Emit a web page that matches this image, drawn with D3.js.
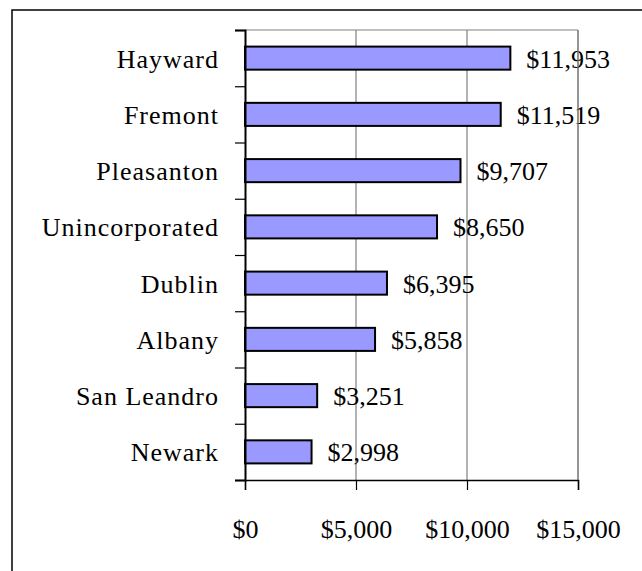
<!DOCTYPE html>
<html>
<head>
<meta charset="utf-8">
<script src="https://cdn.jsdelivr.net/npm/d3@7"></script>
<style>
  html, body { margin: 0; padding: 0; background: #fff; }
  svg { display: block; }
  text { font-family: "Liberation Serif", "DejaVu Serif", serif; fill: #000; }
</style>
</head>
<body>
<svg id="chart" width="642" height="571"></svg>
<script>
const categories = ["Hayward", "Fremont", "Pleasanton", "Unincorporated", "Dublin", "Albany", "San Leandro", "Newark"];
const values = [11953, 11519, 9707, 8650, 6395, 5858, 3251, 2998];
const xTicks = [0, 5000, 10000, 15000];

const svg = d3.select("#chart");
const W = 642, H = 571;
const plot = { left: 245, right: 578, top: 30, bottom: 480 };

// outer frame (extends beyond right and bottom edges)
svg.append("rect")
  .attr("x", 12).attr("y", 10)
  .attr("width", 700).attr("height", 700)
  .attr("fill", "#fff").attr("stroke", "#000").attr("stroke-width", 1.5);

const x = d3.scaleLinear().domain([0, 15000]).range([plot.left, plot.right]);
const y = d3.scaleBand().domain(categories).range([plot.top, plot.bottom]).paddingInner(0.59).paddingOuter(0.295);
const yEdges = d3.scaleLinear().domain([0, categories.length]).range([plot.top, plot.bottom]);

const fmt = d3.format("$,");

// gridlines
svg.append("g").selectAll("line").data(xTicks.slice(1)).join("line")
  .attr("x1", d => x(d)).attr("x2", d => x(d))
  .attr("y1", plot.top).attr("y2", plot.bottom)
  .attr("stroke", "#808080").attr("stroke-width", 1.2);
// top border of plot
svg.append("line")
  .attr("x1", plot.left).attr("x2", plot.right)
  .attr("y1", plot.top).attr("y2", plot.top)
  .attr("stroke", "#808080").attr("stroke-width", 1.2);

// bars
svg.append("g").selectAll("rect").data(values).join("rect")
  .attr("x", x(0))
  .attr("y", (d, i) => y(categories[i]))
  .attr("width", d => x(d) - x(0))
  .attr("height", y.bandwidth())
  .attr("fill", "#9999ff")
  .attr("stroke", "#000").attr("stroke-width", 2);

// value labels
svg.append("g").selectAll("text").data(values).join("text")
  .attr("x", d => x(d) + 16)
  .attr("y", (d, i) => y(categories[i]) + y.bandwidth() / 2 + 9.5)
  .attr("font-size", 26)
  .text(d => fmt(d));

// x axis
const xAxis = d3.axisBottom(x).tickValues(xTicks).tickSize(10).tickPadding(0).tickFormat(d => fmt(d));
const gx = svg.append("g").attr("transform", `translate(0,${plot.bottom})`).call(xAxis);
gx.select(".domain").attr("stroke", "#000").attr("stroke-width", 1.5);
gx.selectAll(".tick line").attr("stroke", "#000").attr("stroke-width", 1.2);
gx.selectAll(".tick text").attr("font-size", 26).attr("font-family", "Liberation Serif").attr("dy", null).attr("y", 58);

// y axis (ticks at category boundaries)
const yAxis = d3.axisLeft(yEdges).tickValues(d3.range(categories.length + 1)).tickSize(10).tickFormat("");
const gy = svg.append("g").attr("transform", `translate(${plot.left},0)`).call(yAxis);
gy.select(".domain").attr("stroke", "#000").attr("stroke-width", 2);
gy.selectAll(".tick line").attr("stroke", "#000").attr("stroke-width", 1.2);

// category labels
svg.append("g").selectAll("text").data(categories).join("text")
  .attr("x", 219)
  .attr("y", d => y(d) + y.bandwidth() / 2 + 9.5)
  .attr("text-anchor", "end")
  .attr("font-size", 26)
  .attr("letter-spacing", 1)
  .text(d => d);

// right border of plot
svg.append("line")
  .attr("x1", plot.right).attr("x2", plot.right)
  .attr("y1", plot.top).attr("y2", plot.bottom)
  .attr("stroke", "#808080").attr("stroke-width", 1.2);
</script>
</body>
</html>
